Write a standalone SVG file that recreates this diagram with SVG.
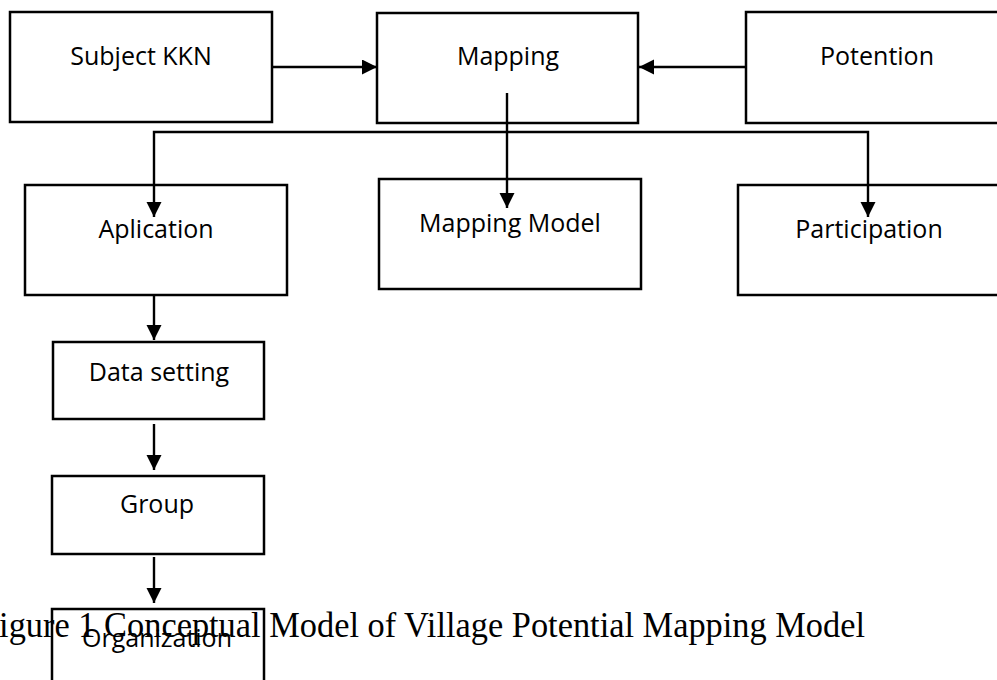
<svg xmlns="http://www.w3.org/2000/svg" width="997" height="680" viewBox="0 0 997 680">
<defs>
<style>
.box{fill:#fff;stroke:#000;stroke-width:2.5}
.lbl{font-family:"Open Sans","Noto Sans",sans-serif;font-size:25px;fill:#000;text-anchor:middle}
.con{fill:none;stroke:#000;stroke-width:2.4}
.cap{font-family:"Liberation Serif","DejaVu Serif",serif;font-size:35px;fill:#000}
</style>
<marker id="ah" markerUnits="userSpaceOnUse" markerWidth="16" markerHeight="16" refX="15" refY="7.5" orient="auto">
<path d="M0,0 L15,7.5 L0,15 Z" fill="#000"/>
</marker>
</defs>
<rect width="997" height="680" fill="#fff"/>
<g id="n-subject"><rect class="box" x="10" y="12" width="262" height="110"/><text class="lbl" x="141" y="65">Subject KKN</text></g>
<g id="n-mapping"><rect class="box" x="377" y="13" width="261" height="110"/><text class="lbl" x="508" y="65">Mapping</text></g>
<g id="n-potention"><rect class="box" x="746" y="12" width="262" height="111"/><text class="lbl" x="877" y="65">Potention</text></g>
<g id="n-aplication"><rect class="box" x="25" y="185" width="262" height="110"/><text class="lbl" x="156" y="238">Aplication</text></g>
<g id="n-mappingmodel"><rect class="box" x="379" y="179" width="262" height="110"/><text class="lbl" x="510" y="232">Mapping Model</text></g>
<g id="n-participation"><rect class="box" x="738" y="185" width="262" height="110"/><text class="lbl" x="869" y="238">Participation</text></g>
<g id="n-datasetting"><rect class="box" x="53" y="342" width="211" height="77"/><text class="lbl" x="159" y="381">Data setting</text></g>
<g id="n-group"><rect class="box" x="52" y="476" width="212" height="78"/><text class="lbl" x="157" y="513">Group</text></g>
<g id="n-organization"><rect class="box" x="52" y="609" width="212" height="80"/><text class="lbl" x="157" y="647">Organization</text></g>
<g id="connectors">
<path class="con" d="M272,67 L377,67" marker-end="url(#ah)"/>
<path class="con" d="M746,67 L639,67" marker-end="url(#ah)"/>
<path class="con" d="M507,93 L507,208" marker-end="url(#ah)"/>
<path class="con" d="M507,132 L154,132 L154,217" marker-end="url(#ah)"/>
<path class="con" d="M507,132 L868,132 L868,217" marker-end="url(#ah)"/>
<path class="con" d="M154,295 L154,340" marker-end="url(#ah)"/>
<path class="con" d="M154,424 L154,470" marker-end="url(#ah)"/>
<path class="con" d="M154,557 L154,603" marker-end="url(#ah)"/>
</g>
<text class="cap" x="-20" y="637" textLength="885" lengthAdjust="spacingAndGlyphs">Figure 1 Conceptual Model of Village Potential Mapping Model</text>
</svg>
